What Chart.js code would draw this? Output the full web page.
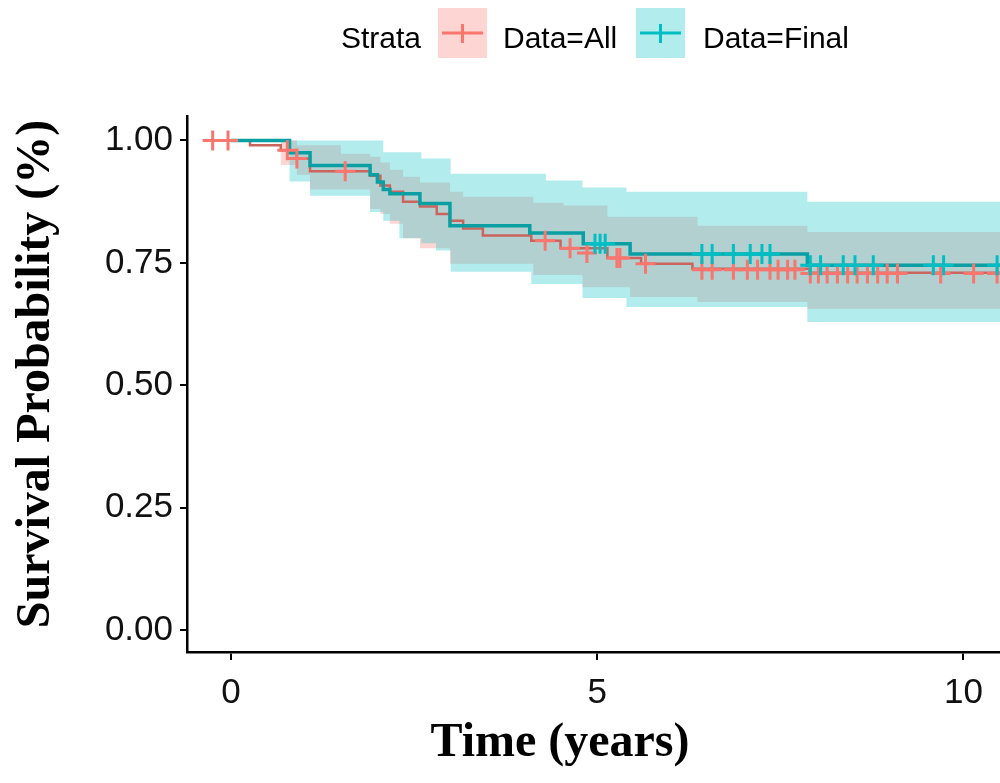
<!DOCTYPE html>
<html>
<head>
<meta charset="utf-8">
<script src="https://cdn.jsdelivr.net/npm/chart.js@4.4.1/dist/chart.umd.min.js"></script>
<style>
html, body { margin: 0; padding: 0; background: #fff; overflow: hidden; }
#wrap { width: 1000px; height: 783px; position: relative; }
#kmChart { display: block; }
</style>
</head>
<body>
<div id="wrap"><canvas id="kmChart"></canvas></div>
<script>
var RED = "#F8766D";
var TEAL = "#00BFC4";

// Kaplan-Meier curves (time in years, survival probability)
var allTime = [-0.35, 0.26, 0.68, 0.9, 1.08, 1.9, 2.04, 2.17, 2.35, 2.58, 2.81, 2.99, 3.17, 3.44, 4.1, 4.5, 5.14, 5.6, 6.3, 7.9, 10.6];
var allSurv = [1.0, 0.99, 0.98, 0.963, 0.937, 0.928, 0.908, 0.895, 0.875, 0.865, 0.85, 0.836, 0.82, 0.806, 0.795, 0.78, 0.76, 0.748, 0.738, 0.73, 0.73];

var finalTime = [0, 0.8, 1.08, 1.9, 2.0, 2.08, 2.17, 2.58, 2.99, 4.08, 4.81, 5.45, 7.87, 10.6];
var finalSurv = [1.0, 0.975, 0.949, 0.93, 0.915, 0.9, 0.891, 0.871, 0.826, 0.811, 0.789, 0.768, 0.745, 0.745];

// 95% confidence bands
var allBandTime  = [-0.35, 0.68, 0.9, 1.08, 1.5, 1.9, 2.04, 2.17, 2.35, 2.58, 2.99, 3.17, 4.13, 4.54, 4.8, 5.14, 5.45, 6.37, 7.87, 10.6];
var allBandUpper = [1.0, 1.0, 0.99, 0.99, 0.973, 0.967, 0.955, 0.94, 0.926, 0.914, 0.895, 0.885, 0.873, 0.867, 0.867, 0.844, 0.844, 0.826, 0.813, 0.813];
var allBandLower = [1.0, 0.95, 0.93, 0.9, 0.9, 0.86, 0.85, 0.83, 0.8, 0.78, 0.748, 0.748, 0.725, 0.725, 0.7, 0.7, 0.68, 0.67, 0.656, 0.656];

var finalBandTime  = [0, 0.8, 1.08, 1.9, 2.08, 2.3, 2.6, 2.8, 3.0, 4.1, 4.3, 4.8, 5.4, 7.87, 10.6];
var finalBandUpper = [1.0, 1.0, 1.0, 1.0, 0.976, 0.976, 0.963, 0.963, 0.932, 0.932, 0.918, 0.904, 0.895, 0.875, 0.875];
var finalBandLower = [1.0, 0.916, 0.887, 0.854, 0.836, 0.8, 0.79, 0.775, 0.732, 0.707, 0.707, 0.678, 0.66, 0.629, 0.629];

// censored observations
var allCensorTime = [-0.25, -0.04, 0.77, 0.9, 1.56, 4.29, 4.63, 4.86, 5.27, 5.31, 5.66, 6.43, 6.57, 6.86, 7.05, 7.19, 7.36, 7.47, 7.6, 7.7, 7.91, 8.02, 8.14, 8.28, 8.42, 8.55, 8.69, 8.83, 8.96, 9.1, 9.69, 10.14, 10.46];
var allCensorSurv = [1.0, 1.0, 0.98, 0.963, 0.937, 0.795, 0.78, 0.77, 0.76, 0.76, 0.748, 0.736, 0.736, 0.736, 0.736, 0.736, 0.736, 0.736, 0.736, 0.736, 0.728, 0.728, 0.728, 0.728, 0.728, 0.728, 0.728, 0.728, 0.728, 0.728, 0.728, 0.728, 0.728];

var finalCensorTime = [4.97, 5.04, 5.11, 6.43, 6.57, 6.86, 7.09, 7.25, 7.36, 7.91, 8.05, 8.36, 8.52, 8.77, 9.59, 9.73, 10.46];
var finalCensorSurv = [0.789, 0.789, 0.789, 0.768, 0.768, 0.768, 0.768, 0.768, 0.768, 0.745, 0.745, 0.745, 0.745, 0.745, 0.745, 0.745, 0.745];

var yTicks = [0, 0.25, 0.5, 0.75, 1.0];
var xTicks = [0, 5, 10];
var legendTitle = "Strata";
var legendLabels = ["Data=All", "Data=Final"];
var xTitle = "Time (years)";
var yTitle = "Survival Probability (%)";

function toPoints(xs, ys) {
    return xs.map(function(x, i) { return {x: x, y: ys[i]}; });
}

function band(xs, ys, fill, color, order) {
    return {
        data: toPoints(xs, ys),
        stepped: "before",
        borderWidth: 0,
        borderColor: "rgba(0,0,0,0)",
        pointRadius: 0,
        fill: fill,
        backgroundColor: color,
        order: order,
    };
}

function curve(xs, ys, color, width, order) {
    return {
        data: toPoints(xs, ys),
        stepped: "before",
        borderColor: color,
        borderWidth: width,
        pointRadius: 0,
        fill: false,
        order: order,
    };
}

function censor(xs, ys, color, order) {
    return {
        data: toPoints(xs, ys),
        showLine: false,
        pointStyle: "cross",
        pointRadius: 10,
        pointBorderWidth: 3,
        pointBorderColor: color,
        pointBackgroundColor: color,
        order: order,
    };
}

// legend and axis titles, laid out like the ggsurvplot output
var decor = {
    id: "kmDecor",
    afterDraw: function(chart) {
        var ctx = chart.ctx;
        ctx.save();

        ctx.fillStyle = "#000";
        ctx.textBaseline = "alphabetic";
        ctx.textAlign = "left";
        ctx.font = "30px 'Liberation Sans', Arial, sans-serif";
        ctx.fillText(legendTitle, 341, 48);

        var keys = [
            {box: 438, text: 503, line: RED, fill: "rgba(248,118,109,0.3)"},
            {box: 636, text: 703, line: TEAL, fill: "rgba(0,191,196,0.3)"},
        ];
        keys.forEach(function(k, i) {
            ctx.fillStyle = k.fill;
            ctx.fillRect(k.box, 8, 49, 50);
            ctx.strokeStyle = k.line;
            ctx.lineWidth = 3;
            ctx.beginPath();
            ctx.moveTo(k.box + 4, 33);
            ctx.lineTo(k.box + 45, 33);
            ctx.moveTo(k.box + 24.5, 24);
            ctx.lineTo(k.box + 24.5, 43);
            ctx.stroke();
            ctx.fillStyle = "#000";
            ctx.fillText(legendLabels[i], k.text, 48);
        });

        ctx.font = "bold 48px 'Liberation Serif', 'Times New Roman', serif";
        ctx.textAlign = "center";
        ctx.textBaseline = "middle";
        ctx.fillText(xTitle, 560, 744);

        ctx.translate(37, 374);
        ctx.rotate(-Math.PI / 2);
        ctx.fillText(yTitle, 0, 0);
        ctx.restore();
    },
};

var kmChart = new Chart(document.getElementById("kmChart"), {
    type: "line",
    data: {
        datasets: [
            band(allBandTime, allBandLower, false, "rgba(0,0,0,0)", 10),
            band(allBandTime, allBandUpper, "-1", "rgba(248,118,109,0.3)", 10),
            band(finalBandTime, finalBandLower, false, "rgba(0,0,0,0)", 9),
            band(finalBandTime, finalBandUpper, "-1", "rgba(0,191,196,0.3)", 9),
            curve(allTime, allSurv, "#C9655C", 2.5, 5),
            curve(finalTime, finalSurv, "#0A9FA3", 3.5, 4),
            censor(allCensorTime, allCensorSurv, RED, 2),
            censor(finalCensorTime, finalCensorSurv, TEAL, 1),
        ],
    },
    options: {
        responsive: true,
        maintainAspectRatio: false,
        animation: false,
        events: [],
        layout: { autoPadding: false, padding: { top: 116, left: 0, right: 0, bottom: 0 } },
        plugins: {
            legend: { display: false },
            tooltip: { enabled: false },
        },
        scales: {
            x: {
                type: "linear",
                min: -0.6,
                max: 10.5,
                afterFit: function(scale) {
                    scale.height = 131;
                    scale.paddingLeft = 0;
                    scale.paddingRight = 0;
                },
                afterBuildTicks: function(scale) {
                    scale.ticks = xTicks.map(function(v) { return {value: v}; });
                },
                grid: { drawOnChartArea: false, color: "#000", lineWidth: 2, tickLength: 8 },
                border: { color: "#000", width: 2.5 },
                ticks: {
                    font: { family: "'Liberation Sans', Arial, sans-serif", size: 35 },
                    color: "#111",
                    padding: 12,
                    maxRotation: 0,
                    autoSkip: false,
                },
            },
            y: {
                min: -0.045,
                max: 1.05,
                afterFit: function(scale) {
                    scale.width = 187;
                    scale.paddingTop = 0;
                    scale.paddingBottom = 0;
                },
                afterBuildTicks: function(scale) {
                    scale.ticks = yTicks.map(function(v) { return {value: v}; });
                },
                grid: { drawOnChartArea: false, color: "#000", lineWidth: 2, tickLength: 7 },
                border: { color: "#000", width: 2.5 },
                ticks: {
                    font: { family: "'Liberation Sans', Arial, sans-serif", size: 35 },
                    color: "#111",
                    padding: 7,
                    autoSkip: false,
                    callback: function(v) { return Number(v).toFixed(2); },
                },
            },
        },
    },
    plugins: [decor],
});
</script>
</body>
</html>
